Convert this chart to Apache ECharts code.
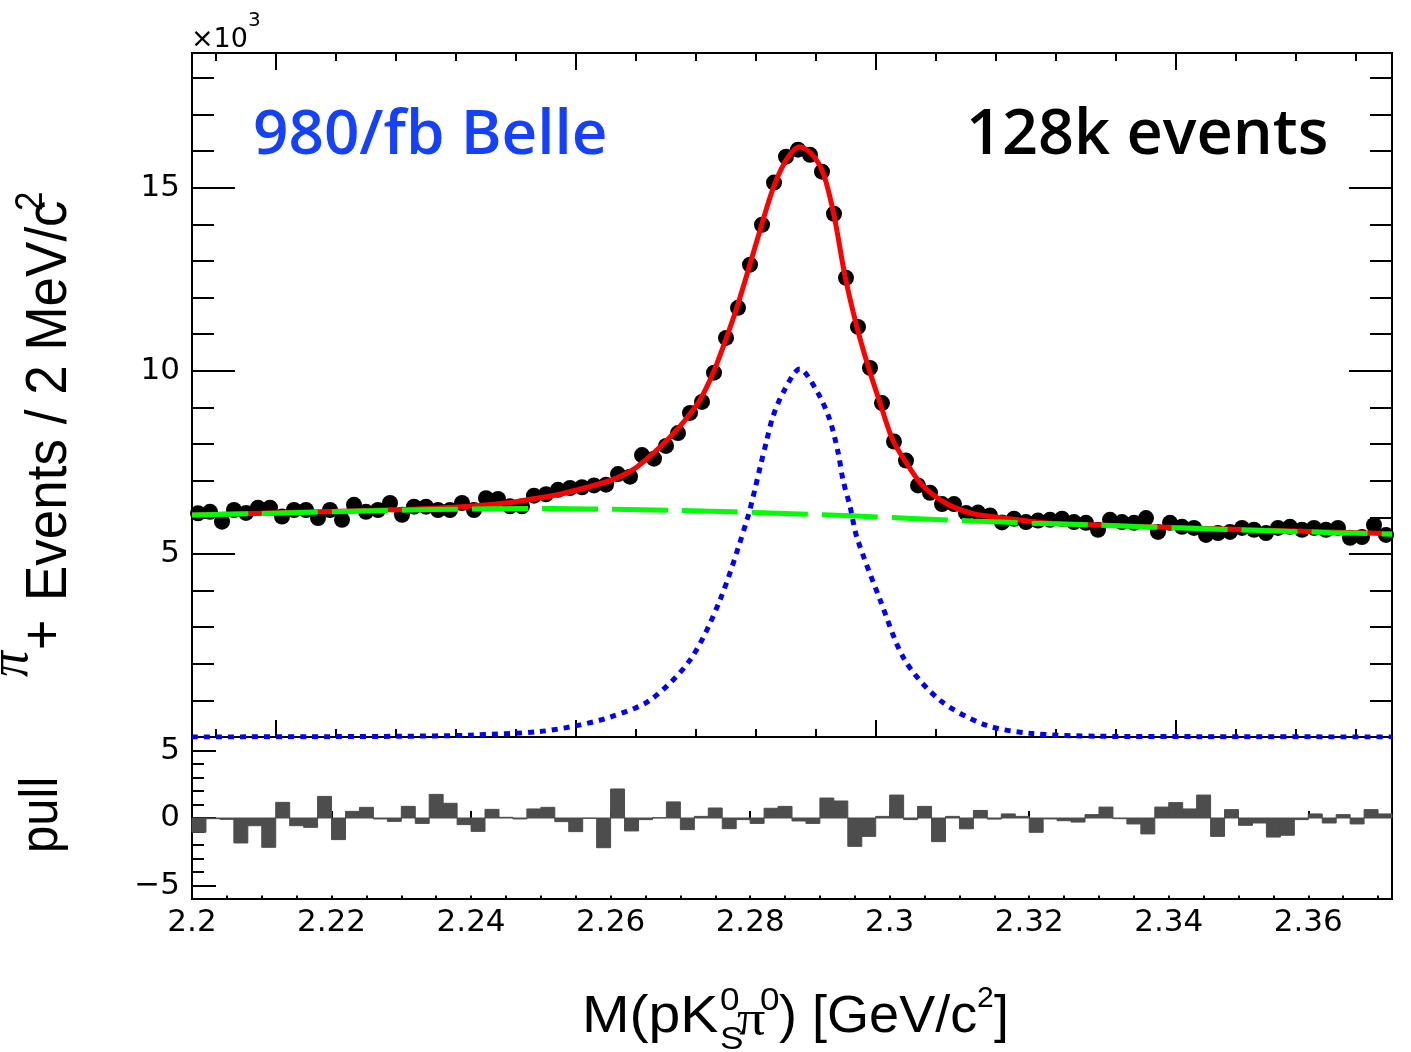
<!DOCTYPE html>
<html><head><meta charset="utf-8">
<script src="https://cdn.jsdelivr.net/npm/echarts@6/dist/echarts.min.js"></script>
<style>html,body{margin:0;padding:0;background:#fff}#c{width:1411px;height:1052px}</style>
</head><body><div id="c"></div>
<script>
// ---- data (values in thousands of events per 2 MeV/c^2) ----
// main panel: 100 bins of 2 MeV from 2.186 to 2.386 GeV
const binLow = 2.186;
const binWidth = 0.002;
const counts = [6.11,6.15,5.88,6.20,6.12,6.26,6.26,6.02,6.20,6.20,
  5.98,6.20,5.93,6.34,6.15,6.20,6.39,6.07,6.29,6.29,
  6.20,6.20,6.39,6.20,6.52,6.50,6.30,6.30,6.59,6.63,
  6.75,6.80,6.82,6.87,6.89,7.18,7.11,7.70,7.60,7.95,
  8.30,8.85,9.15,9.95,10.90,11.72,12.90,13.99,15.14,15.85,
  16.04,15.90,15.44,14.29,12.54,11.20,10.08,9.12,8.07,7.55,
  6.87,6.67,6.36,6.36,6.12,6.13,6.05,5.86,5.96,5.87,
  5.91,5.93,5.96,5.87,5.85,5.66,5.93,5.87,5.85,5.98,
  5.60,5.85,5.74,5.71,5.52,5.57,5.60,5.71,5.66,5.57,
  5.71,5.74,5.66,5.71,5.66,5.71,5.44,5.46,5.79,5.52];
// pull panel: 86 bins of 2 MeV from 2.2 to 2.372 GeV (as drawn)
const pullLow = 2.2;
const pulls = [-1.06,-0.05,-0.10,-1.85,-0.57,-2.17,1.16,-0.57,-0.69,1.60,
  -1.60,0.49,0.79,-0.07,-0.25,0.86,-0.40,1.75,1.09,-0.49,
  -0.99,0.64,0.05,-0.07,0.67,0.79,-0.27,-1.01,-0.02,-2.20,
  2.15,-0.96,-0.12,0.02,1.19,-0.86,0.12,0.74,-0.79,-0.12,
  -0.40,0.72,0.86,-0.22,-0.40,1.48,1.26,-2.10,-1.36,0.12,
  1.70,-0.12,0.86,-1.75,0.12,-0.80,0.56,-0.08,0.30,0.12,
  -1.06,-0.07,-0.20,-0.30,0.25,0.81,-0.05,-0.44,-1.18,0.81,
  1.14,0.67,1.70,-1.36,0.62,-0.54,-0.37,-1.41,-1.28,-0.12,
  0.30,-0.37,0.25,-0.44,0.62,0.30];
// total fit curve (red)
const fitX = [2.1860,2.1977,2.2092,2.2207,2.2310,2.2382,2.2412,2.2473,2.2523,2.2560,
  2.2595,2.2635,2.2662,2.2685,2.2707,2.2728,2.2748,2.2768,2.2788,2.2810,
  2.2830,2.2852,2.2873,2.2893,2.2912,2.2930,2.2948,2.2968,2.2987,2.3007,
  2.3028,2.3052,2.3078,2.3118,2.3162,2.3218,2.3290,2.3373,2.3457,2.3623,2.3860];
const fitTotal = [6.06,6.11,6.16,6.21,6.29,6.39,6.46,6.63,6.84,7.02,
  7.30,7.84,8.28,8.72,9.22,9.92,10.78,11.72,12.80,14.02,
  15.05,15.80,16.12,15.92,15.40,14.25,12.62,11.21,10.12,9.11,
  8.11,7.45,6.86,6.37,6.10,5.97,5.84,5.79,5.74,5.66,5.55];
// background component (green dashed)
const bgX = [2.186,2.196,2.206,2.216,2.226,2.236,2.246,2.256,2.266,2.276,
  2.286,2.296,2.306,2.316,2.326,2.336,2.346,2.356,2.366,2.376,2.386];
const bgY = [6.06,6.10,6.14,6.18,6.21,6.235,6.24,6.22,6.19,6.15,
  6.10,6.04,5.97,5.90,5.84,5.79,5.73,5.68,5.63,5.58,5.54];
// signal component (blue dotted)
const sigX = [2.1860,2.2090,2.2207,2.2323,2.2440,2.2507,2.2558,2.2623,2.2690,2.2740,
  2.2785,2.2798,2.2807,2.2818,2.2828,2.2845,2.2873,2.2903,2.2923,2.2937,
  2.2945,2.2957,2.2968,2.3007,2.3048,2.3107,2.3182,2.3257,2.3373,2.3540,2.3860];
const sigY = [0.0,0.01,0.02,0.05,0.15,0.33,0.55,1.0,2.1,3.74,
  5.93,6.75,7.38,8.11,8.74,9.40,10.05,9.40,8.66,7.76,
  7.02,6.28,5.46,3.74,2.1,1.0,0.33,0.10,0.02,0.01,0.0];

const xMinMain = 2.186, xMaxMain = 2.386;
const xMinPull = 2.2, xMaxPull = 2.372;
const mainYMax = 18.68;
const pullRange = 6;

const chart = echarts.init(document.getElementById('c'), null, {renderer:'canvas'});
const lblFont = {fontFamily:'DejaVu Sans', fontSize:31, color:'#000'};
function tickAx(extra){
  return Object.assign({type:'value', axisLine:{show:false}, splitLine:{show:false},
    axisLabel:{show:false}, axisTick:{show:true, inside:true, lineStyle:{color:'#000', width:2}}}, extra);
}
function tk(len){ return {show:true, inside:true, length:len, lineStyle:{color:'#000', width:2}}; }
const pairs = (xs, ys) => xs.map((x,i)=>[x, ys[i]]);

const option = {
  animation:false,
  backgroundColor:'#fff',
  grid:[
    {left:192, top:53, width:1200, height:684, show:true, borderColor:'#000', borderWidth:2, backgroundColor:'transparent'},
    {left:192, top:737, width:1200, height:162, show:true, borderColor:'#000', borderWidth:2, backgroundColor:'transparent'},
    {left:216, top:53, width:1140, height:684},
    {left:276, top:53, width:900, height:684},
    {left:192, top:750.5, width:1200, height:135}
  ],
  xAxis:[
    {gridIndex:0, type:'value', min:xMinMain, max:xMaxMain, show:false},
    tickAx({gridIndex:1, min:xMinPull, max:xMaxPull, interval:0.02, position:'bottom', axisTick:tk(7),
      axisLabel:Object.assign({show:true, margin:8, showMaxLabel:false,
        formatter:v=>String(+v.toFixed(3))}, lblFont)}),
    tickAx({gridIndex:1, min:xMinPull, max:xMaxPull, interval:0.005, position:'bottom', axisTick:tk(3.5)}),
    tickAx({gridIndex:2, min:2.19, max:2.38, interval:0.01, position:'bottom', axisTick:tk(8)}),
    tickAx({gridIndex:2, min:2.19, max:2.38, interval:0.01, position:'top', axisTick:tk(8)}),
    tickAx({gridIndex:3, min:2.2, max:2.35, interval:0.05, position:'bottom', axisTick:tk(17)}),
    tickAx({gridIndex:3, min:2.2, max:2.35, interval:0.05, position:'top', axisTick:tk(17)}),
    {gridIndex:4, type:'value', min:0, max:1, show:false}
  ],
  yAxis:[
    tickAx({gridIndex:0, min:0, max:mainYMax, interval:5, position:'left', axisTick:tk(43),
      axisLabel:Object.assign({show:true, margin:12, showMinLabel:false, showMaxLabel:false}, lblFont)}),
    tickAx({gridIndex:0, min:0, max:mainYMax, interval:1, position:'left', axisTick:tk(22)}),
    tickAx({gridIndex:0, min:0, max:mainYMax, interval:5, position:'right', axisTick:tk(43)}),
    tickAx({gridIndex:0, min:0, max:mainYMax, interval:1, position:'right', axisTick:tk(22)}),
    {gridIndex:1, type:'value', min:-pullRange, max:pullRange, show:false},
    tickAx({gridIndex:4, min:-5, max:5, interval:5, position:'left', axisTick:tk(24),
      axisLabel:Object.assign({show:true, margin:12,
        formatter:v=> v<0 ? '\u2212'+Math.abs(v) : String(v)}, lblFont)}),
    tickAx({gridIndex:4, min:-5, max:5, interval:1, position:'left', axisTick:tk(12)}),
    {gridIndex:2, type:'value', min:0, max:1, show:false},
    {gridIndex:3, type:'value', min:0, max:1, show:false}
  ],
  series:[
    {type:'scatter', xAxisIndex:0, yAxisIndex:0, symbol:'circle', symbolSize:16,
      itemStyle:{color:'#000', opacity:1}, z:2,
      data:counts.map((v,i)=>[binLow + binWidth*(i+0.5), v])},
    {type:'line', xAxisIndex:0, yAxisIndex:0, data:pairs(fitX, fitTotal), smooth:0.3,
      showSymbol:false, lineStyle:{color:'#ff0000', width:5}, z:3},
    {type:'line', xAxisIndex:0, yAxisIndex:0, data:pairs(bgX, bgY), smooth:0.3,
      showSymbol:false, lineStyle:{color:'#00ff00', width:5, type:[56,14]}, z:4},
    {type:'line', xAxisIndex:0, yAxisIndex:0, data:pairs(sigX, sigY), smooth:0.3,
      showSymbol:false, lineStyle:{color:'#0000ff', width:5, type:[6,6]}, z:5},
    {type:'custom', xAxisIndex:1, yAxisIndex:4, z:2,
      data:pulls.map((p,i)=>[pullLow + binWidth*(i+0.5), p]),
      renderItem:(params, api)=>{
        const x = api.value(0), p = api.value(1);
        const a = api.coord([x - binWidth/2, p]);
        const b = api.coord([x + binWidth/2, 0]);
        return {type:'rect', shape:{x:a[0], y:Math.min(a[1], b[1]), width:b[0]-a[0], height:Math.abs(b[1]-a[1])},
          style:{fill:'#4d4d4d', stroke:'#4d4d4d', lineWidth:1}};
      }}
  ],
  graphic:[
    {type:'text', x:191, y:40, style:{text:'\u00d710', fontFamily:'DejaVu Sans', fontSize:27, fill:'#000', verticalAlign:'middle'}},
    {type:'text', x:248, y:21, style:{text:'3', fontFamily:'DejaVu Sans', fontSize:20, fill:'#000', verticalAlign:'middle'}},
    {type:'text', x:253, y:136, style:{text:'980/fb Belle', fontFamily:'Open Sans', fontWeight:600, fontSize:62, fill:'#1440ff', verticalAlign:'middle'}},
    {type:'text', x:966, y:136, style:{text:'128k events', fontFamily:'Open Sans', fontWeight:600, fontSize:63, fill:'#000', verticalAlign:'middle'}},
    // x title
    {type:'text', x:582, y:1018, scaleX:1.12, style:{text:'M(pK', fontFamily:'Liberation Sans', fontSize:51, fill:'#000', verticalAlign:'middle'}},
    {type:'text', x:720, y:1001, scaleX:1.1, style:{text:'0', fontFamily:'Liberation Sans', fontSize:32, fill:'#000', verticalAlign:'middle'}},
    {type:'text', x:720, y:1040, scaleX:1.1, style:{text:'S', fontFamily:'Liberation Sans', fontSize:32, fill:'#000', verticalAlign:'middle'}},
    {type:'text', x:737, y:1022, scaleX:1.1, style:{text:'\u03c0', fontFamily:'Liberation Serif', fontSize:51, fill:'#000', verticalAlign:'middle'}},
    {type:'text', x:760, y:1001, scaleX:1.1, style:{text:'0', fontFamily:'Liberation Sans', fontSize:32, fill:'#000', verticalAlign:'middle'}},
    {type:'text', x:779, y:1018, scaleX:1.06, style:{text:') [GeV/c', fontFamily:'Liberation Sans', fontSize:51, fill:'#000', verticalAlign:'middle'}},
    {type:'text', x:977, y:999, style:{text:'2', fontFamily:'Liberation Sans', fontSize:30, fill:'#000', verticalAlign:'middle'}},
    {type:'text', x:994, y:1018, scaleX:1.05, style:{text:']', fontFamily:'Liberation Sans', fontSize:51, fill:'#000', verticalAlign:'middle'}},
    // y title (rotated)
    {type:'text', x:50, y:601, rotation:Math.PI/2, scaleY:1.1, style:{text:'Events / 2 MeV/c', fontFamily:'Liberation Sans', fontSize:53, fill:'#000', verticalAlign:'middle'}},
    {type:'text', x:31, y:211, rotation:Math.PI/2, scaleY:1.1, style:{text:'2', fontFamily:'Liberation Sans', fontSize:35, fill:'#000', verticalAlign:'middle'}},
    {type:'text', x:45, y:650, rotation:Math.PI/2, scaleY:1.1, style:{text:'+', fontFamily:'Liberation Sans', fontSize:52, fill:'#000', verticalAlign:'middle'}},
    {type:'text', x:12, y:677, rotation:Math.PI/2, scaleY:1.1, style:{text:'\u03c0', fontFamily:'Liberation Serif', fontStyle:'italic', fontSize:52, fill:'#000', verticalAlign:'middle'}},
    // pull title
    {type:'text', x:42, y:853, rotation:Math.PI/2, scaleY:1.1, style:{text:'pull', fontFamily:'Liberation Sans', fontSize:49, fill:'#000', verticalAlign:'middle'}}
  ]
};
chart.setOption(option);
</script></body></html>
